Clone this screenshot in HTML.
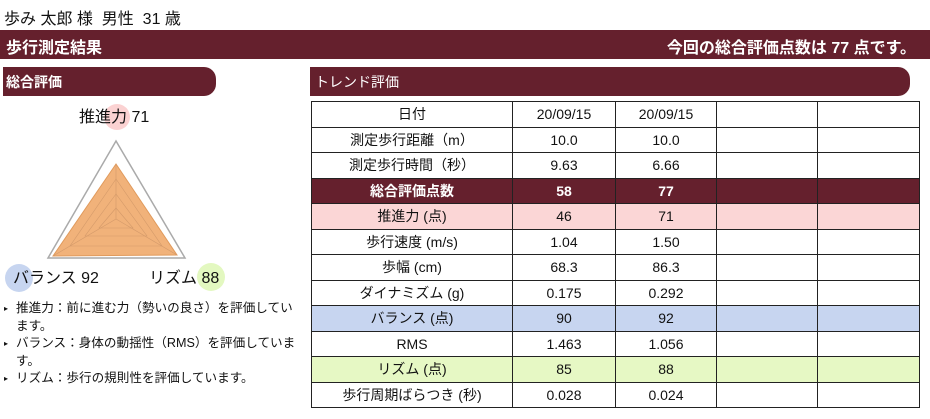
<!DOCTYPE html>
<html><head><meta charset="utf-8"><style>
*{margin:0;padding:0;box-sizing:border-box}
body{width:930px;height:419px;background:#fff;font-family:"Liberation Sans","Noto Sans CJK JP",sans-serif;color:#111;position:relative;overflow:hidden}
.a{position:absolute;white-space:nowrap}
.bar{background:#65202d;color:#fff}
table{position:absolute;left:311px;top:101px;border-collapse:collapse;font-size:14px}
td{border:1px solid #222;height:25.5px;text-align:center;padding:0;line-height:24px}
tr.m td{background:#65202d;color:#fff;font-weight:bold}
tr.p td{background:#fbd6d6}
tr.b td{background:#c7d5f0}
tr.g td{background:#e6f8c4}
ul{position:absolute;left:4px;top:300px;width:296px;list-style:none;font-size:12.6px;line-height:17.5px}
li{padding-left:12px;position:relative}
li:before{content:"▸";position:absolute;left:0;font-size:8px}
</style></head><body>
<div class="a" style="left:4px;top:5px;font-size:16px">歩み 太郎 様 &nbsp;男性 &nbsp;31 歳</div>
<div class="a bar" style="left:0;top:30px;width:930px;height:29px"></div>
<div class="a" style="left:6px;top:34px;font-size:16px;color:#fff;font-weight:bold">歩行測定結果</div>
<div class="a" style="right:14px;top:34px;font-size:16px;color:#fff;font-weight:bold">今回の総合評価点数は 77 点です。</div>
<div class="a bar" style="left:3px;top:67px;width:213px;height:29px;border-radius:0 12px 12px 0"></div>
<div class="a" style="left:6px;top:72px;font-size:14px;color:#fff;font-weight:bold">総合評価</div>
<div class="a bar" style="left:310px;top:67px;width:600px;height:29px;border-radius:0 12px 12px 0"></div>
<div class="a" style="left:315px;top:72px;font-size:14px;color:#fff">トレンド評価</div>
<svg class="a" style="left:0;top:95px" width="300" height="205" viewBox="0 95 300 205">
<circle cx="117" cy="117" r="13" fill="#fbd2d2"/>
<circle cx="19" cy="278" r="14" fill="#c7d5f0"/>
<circle cx="211" cy="277" r="14" fill="#e3f8c0"/>
<polygon points="116,141 48,258 185,258" fill="none" stroke="#aaa" stroke-width="1.5"/>
<polygon points="116,164 53,256 177,255" fill="#f1b27a" stroke="#e09a5c"/>
<g stroke="#d49a6a" stroke-width="0.6" fill="none">
<polygon points="116,179 70,246 162,246"/><polygon points="116,194 85,236 147,236"/><polygon points="116,208 99,228 133,228"/>
<line x1="116" y1="219" x2="116" y2="164"/><line x1="116" y1="219" x2="53" y2="256"/><line x1="116" y1="219" x2="177" y2="255"/>
</g>
<text x="79" y="122" font-size="16" fill="#111" font-family="Liberation Sans,Noto Sans CJK JP,sans-serif">推進力 71</text>
<text x="13" y="283" font-size="16" fill="#111" font-family="Liberation Sans,Noto Sans CJK JP,sans-serif">バランス 92</text>
<text x="149" y="283" font-size="16" fill="#111" font-family="Liberation Sans,Noto Sans CJK JP,sans-serif">リズム 88</text>
</svg>
<ul>
<li>推進力：前に進む力（勢いの良さ）を評価しています。</li>
<li>バランス：身体の動揺性（RMS）を評価しています。</li>
<li>リズム：歩行の規則性を評価しています。</li>
</ul>
<table>
<colgroup><col style="width:201px"><col style="width:103px"><col style="width:101px"><col style="width:101px"><col style="width:102px"></colgroup>
<tr><td>日付</td><td>20/09/15</td><td>20/09/15</td><td></td><td></td></tr>
<tr><td>測定歩行距離（m）</td><td>10.0</td><td>10.0</td><td></td><td></td></tr>
<tr><td>測定歩行時間（秒）</td><td>9.63</td><td>6.66</td><td></td><td></td></tr>
<tr class="m"><td>総合評価点数</td><td>58</td><td>77</td><td></td><td></td></tr>
<tr class="p"><td>推進力 (点)</td><td>46</td><td>71</td><td></td><td></td></tr>
<tr><td>歩行速度 (m/s)</td><td>1.04</td><td>1.50</td><td></td><td></td></tr>
<tr><td>歩幅 (cm)</td><td>68.3</td><td>86.3</td><td></td><td></td></tr>
<tr><td>ダイナミズム (g)</td><td>0.175</td><td>0.292</td><td></td><td></td></tr>
<tr class="b"><td>バランス (点)</td><td>90</td><td>92</td><td></td><td></td></tr>
<tr><td>RMS</td><td>1.463</td><td>1.056</td><td></td><td></td></tr>
<tr class="g"><td>リズム (点)</td><td>85</td><td>88</td><td></td><td></td></tr>
<tr><td>歩行周期ばらつき (秒)</td><td>0.028</td><td>0.024</td><td></td><td></td></tr>
</table>
</body></html>
